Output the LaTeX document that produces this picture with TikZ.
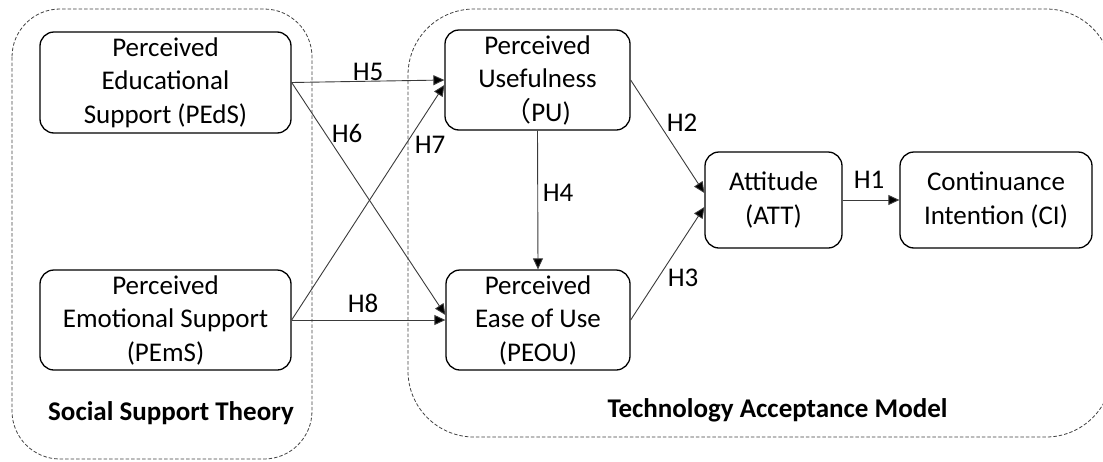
\documentclass[tikz,border=0pt]{standalone}
\usepackage{fontspec}
\setmainfont{Carlito}
\newfontfamily\cjk{Noto Sans CJK SC}
\usetikzlibrary{arrows.meta,calc}
\definecolor{linegray}{HTML}{3A3A3A}
\definecolor{dashgray}{HTML}{404040}
\begin{document}
\begin{tikzpicture}[x=1pt,y=-1pt,
  construct/.style={draw=black,line width=1.3pt,rounded corners=14pt,align=center,
    font=\fontsize{27}{33.5}\selectfont,inner sep=0pt},
  path/.style={draw=linegray,line width=0.9pt,-{Triangle[length=11pt,width=10pt,fill=black]}},
  hyp/.style={font=\fontsize{27}{30}\selectfont,inner sep=0pt},
  theory/.style={font=\fontsize{27}{30}\selectfont\bfseries,inner sep=0pt},
  group/.style={draw=dashgray,line width=0.8pt,dash pattern=on 3.5pt off 2pt}]
\useasboundingbox (0,0) rectangle (1103,461);

% theory groupings
\draw[group,rounded corners=48pt] (12,9) rectangle (312,459);
\draw[group,rounded corners=66pt] (408,9) rectangle (1112,437);

% constructs
\node[construct,minimum width=251pt,minimum height=101pt] (PEdS) at (165.5,82.5)
  {Perceived\\Educational\\Support (PEdS)};
\node[construct,minimum width=251pt,minimum height=100pt] (PEmS) at (165.5,320)
  {Perceived\\Emotional Support\\(PEmS)};
\node[construct,minimum width=185pt,minimum height=100pt] (PU) at (537.5,80)
  {Perceived\\Usefulness\\{\cjk （}PU)};
\node[construct,minimum width=184pt,minimum height=100pt] (PEOU) at (538,320)
  {Perceived\\Ease of Use\\(PEOU)};
\node[construct,minimum width=137pt,minimum height=96pt] (ATT) at (773.5,200)
  {Attitude\\(ATT)};
\node[construct,minimum width=192pt,minimum height=96pt] (CI) at (996,200)
  {Continuance\\Intention (CI)};

% hypothesised paths
\draw[path] (PEdS.east) -- (PU.west);
\draw[path] (PEdS.east) -- ($(PEOU.west)+(0,-5)$);
\draw[path] (PEmS.east) -- ($(PU.west)+(0,5)$);
\draw[path] (PEmS.east) -- (PEOU.west);
\draw[path] (PU.south) -- (PEOU.north);
\draw[path] (PU.east) -- ($(ATT.west)+(0,-7)$);
\draw[path] (PEOU.east) -- ($(ATT.west)+(0,7)$);
\draw[path] (ATT.east) -- (CI.west);

% path labels
\node[hyp] (h5) at (368,72) {H5};
\node[hyp] (h6) at (347,133) {H6};
\node[hyp] (h7) at (430,145) {H7};
\node[hyp] (h8) at (363,303) {H8};
\node[hyp] (h4) at (558,193) {H4};
\node[hyp] (h2) at (682,123) {H2};
\node[hyp] (h3) at (683,278) {H3};
\node[hyp] (h1) at (869,180) {H1};

% group titles
\node[theory] (sst) at (171,413) {Social Support Theory};
\node[theory] (tam) at (777.5,410) {Technology Acceptance Model};
\end{tikzpicture}
\end{document}
